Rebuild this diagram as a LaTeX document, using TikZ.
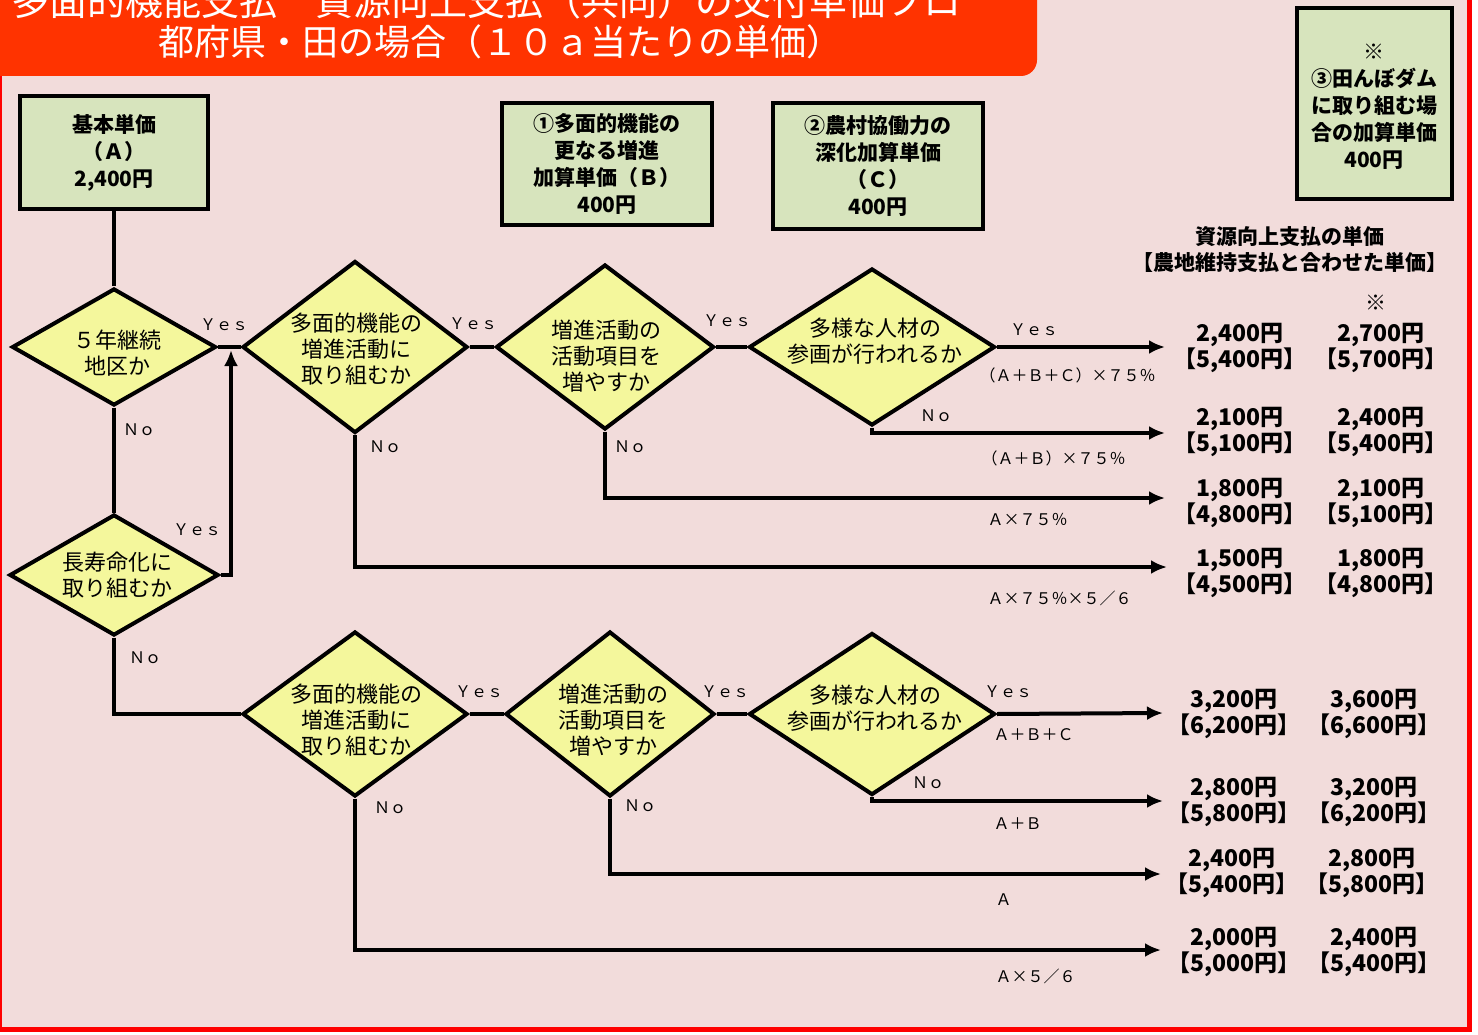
\documentclass[tikz,border=0pt]{standalone}
\usepackage{fontspec}
\setmainfont{Noto Sans CJK JP}
\usetikzlibrary{shapes.geometric,arrows.meta}

\definecolor{bgpink}{HTML}{F2DCDB}
\definecolor{framered}{HTML}{FF0000}
\definecolor{titlered}{HTML}{FF3300}
\definecolor{boxgreen}{HTML}{D7E4BD}
\definecolor{diayellow}{HTML}{F4F79C}

\tikzset{
  titletext/.style={text=white, font=\fontsize{38}{38}\selectfont},
  unitbox/.style={draw, line width=4, fill=boxgreen, inner sep=0, align=center,
    font=\fontsize{21}{27}\selectfont\bfseries},
  judge/.style={diamond, draw, line width=4, fill=diayellow, inner sep=0},
  judgetext/.style={align=center, font=\fontsize{22}{26}\selectfont},
  yn/.style={font=\fontsize{16}{16}\selectfont},
  rate/.style={anchor=west, font=\fontsize{16}{16}\selectfont},
  price/.style={align=center, font=\fontsize{23}{26}\selectfont\bfseries},
  head/.style={align=center, font=\fontsize{21}{26}\selectfont\bfseries},
  flow/.style={line width=4},
  flowto/.style={line width=4, -{Latex[length=16pt,width=14pt]}}
}

\begin{document}
\begin{tikzpicture}[x=1pt,y=-1pt]
		\useasboundingbox (0,0) rectangle (1478,1035);
		\clip (0,0) rectangle (1478,1035);
		\fill[white] (0,0) rectangle (1478,1035);

		% 枠と背景を描画
		\draw[framered, line width=5, fill=bgpink] (-1,-10) rectangle (1469,1029);

		% タイトルを描画
		\fill[titlered, rounded corners=16] (-20,-40) rectangle (1037,76);
		\node[titletext] (title1) at (487,1) {多面的機能支払　資源向上支払（共同）の交付単価フロ};
		\node[titletext, font=\fontsize{36}{36}\selectfont] (title2) at (500,42) {都府県・田の場合（１０ａ当たりの単価）};

		% 単価の箱を描画
		\node[unitbox, minimum width=188, minimum height=113] (boxa) at (114,153) {基本単価\\（Ａ）\\2,400円};
		\node[unitbox, minimum width=210, minimum height=122] (boxb) at (607,164) {①多面的機能の\\更なる増進\\加算単価（Ｂ）\\400円};
		\node[unitbox, minimum width=210, minimum height=126] (boxc) at (878,166) {②農村協働力の\\深化加算単価\\（Ｃ）\\400円};
		\node[unitbox, minimum width=155, minimum height=191] (boxd) at (1374,104) {};
		\node[unitbox, draw=none, fill=none] (boxdt) at (1374,107) {※\\③田んぼダム\\に取り組む場\\合の加算単価\\400円};

		\node[head] (headtxt) at (1290,249) {資源向上支払の単価\\【農地維持支払と合わせた単価】};
		\node[head] (headmark) at (1376,303) {※};

		% 判断のひし形を描画
		\node[judge, minimum width=204, minimum height=117] (d1) at (114,347) {};
		\node[judge, minimum width=209, minimum height=121] (d2) at (114,575) {};
		\node[judge, minimum width=225, minimum height=172] (d3) at (355,347) {};
		\node[judge, minimum width=218, minimum height=165] (d4) at (605,347) {};
		\node[judge, minimum width=246, minimum height=157] (d5) at (872,347) {};
		\node[judge, minimum width=225, minimum height=165] (d6) at (355,714) {};
		\node[judge, minimum width=209, minimum height=165] (d7) at (610,714) {};
		\node[judge, minimum width=246, minimum height=162] (d8) at (872,714) {};

		\node[judgetext] (d1t) at (117,353) {５年継続\\地区か};
		\node[judgetext] (d2t) at (117,575) {長寿命化に\\取り組むか};
		\node[judgetext] (d3t) at (356,349) {多面的機能の\\増進活動に\\取り組むか};
		\node[judgetext] (d4t) at (606,356) {増進活動の\\活動項目を\\増やすか};
		\node[judgetext] (d5t) at (875,341) {多様な人材の\\参画が行われるか};
		\node[judgetext] (d6t) at (356,720) {多面的機能の\\増進活動に\\取り組むか};
		\node[judgetext] (d7t) at (613,720) {増進活動の\\活動項目を\\増やすか};
		\node[judgetext] (d8t) at (875,708) {多様な人材の\\参画が行われるか};

		% 矢印の行き先
		\coordinate (join) at (231,350);
		\coordinate (e1) at (1165,347);
		\coordinate (e2) at (1165,433);
		\coordinate (e3) at (1165,498);
		\coordinate (e4) at (1167,567);
		\coordinate (e5) at (1163,713);
		\coordinate (e6) at (1163,801);
		\coordinate (e7) at (1161,874);
		\coordinate (e8) at (1161,950);

		% 線と矢印を描画
		\draw[flow] (boxa) -- (d1);
		\draw[flow] (d1) -- (d3);
		\draw[flow] (d1) -- (d2);
		\draw[flowto] (d2.east) -| (join);
		\draw[flow] (d2) |- (d6);
		\draw[flow] (d3) -- (d4);
		\draw[flow] (d4) -- (d5);
		\draw[flowto] (d5) -- (e1);
		\draw[flowto] (d5.south) |- (e2);
		\draw[flowto] (d4.south) |- (e3);
		\draw[flowto] (d3.south) |- (e4);
		\draw[flow] (d6) -- (d7);
		\draw[flow] (d7) -- (d8);
		\draw[flowto] (d8.east) -- (e5);
		\draw[flowto] (d8.south) |- (e6);
		\draw[flowto] (d7.south) |- (e7);
		\draw[flowto] (d6.south) |- (e8);

		% Yes と No を描画
		\node[yn] (y1) at (224,325) {Ｙｅｓ};
		\node[yn] (n1) at (139,430) {Ｎｏ};
		\node[yn] (y2) at (197,530) {Ｙｅｓ};
		\node[yn] (n2) at (145,658) {Ｎｏ};
		\node[yn] (y3) at (473,324) {Ｙｅｓ};
		\node[yn] (n3) at (385,447) {Ｎｏ};
		\node[yn] (y4) at (727,321) {Ｙｅｓ};
		\node[yn] (n4) at (630,447) {Ｎｏ};
		\node[yn] (y5) at (1034,330) {Ｙｅｓ};
		\node[yn] (n5) at (936,416) {Ｎｏ};
		\node[yn] (y6) at (479,692) {Ｙｅｓ};
		\node[yn] (n6) at (390,808) {Ｎｏ};
		\node[yn] (y7) at (725,692) {Ｙｅｓ};
		\node[yn] (n7) at (640,806) {Ｎｏ};
		\node[yn] (y8) at (1008,692) {Ｙｅｓ};
		\node[yn] (n8) at (928,783) {Ｎｏ};

		% 計算式を描画
		\node[rate] (r1) at (976,375) {（Ａ＋Ｂ＋Ｃ）×７５％};
		\node[rate] (r2) at (978,458) {（Ａ＋Ｂ）×７５％};
		\node[rate] (r3) at (984,520) {Ａ×７５％};
		\node[rate] (r4) at (984,598) {Ａ×７５％×５／６};
		\node[rate] (r5) at (990,735) {Ａ＋Ｂ＋Ｃ};
		\node[rate] (r6) at (990,824) {Ａ＋Ｂ};
		\node[rate] (r7) at (992,900) {Ａ};
		\node[rate] (r8) at (992,976) {Ａ×５／６};

		% 単価を描画
		\node[price] (p1a) at (1240,348) {2,400円\\【5,400円】};
		\node[price] (p1b) at (1381,348) {2,700円\\【5,700円】};
		\node[price] (p2a) at (1240,432) {2,100円\\【5,100円】};
		\node[price] (p2b) at (1381,432) {2,400円\\【5,400円】};
		\node[price] (p3a) at (1240,503) {1,800円\\【4,800円】};
		\node[price] (p3b) at (1381,503) {2,100円\\【5,100円】};
		\node[price] (p4a) at (1240,573) {1,500円\\【4,500円】};
		\node[price] (p4b) at (1381,573) {1,800円\\【4,800円】};
		\node[price] (p5a) at (1234,714) {3,200円\\【6,200円】};
		\node[price] (p5b) at (1374,714) {3,600円\\【6,600円】};
		\node[price] (p6a) at (1234,802) {2,800円\\【5,800円】};
		\node[price] (p6b) at (1374,802) {3,200円\\【6,200円】};
		\node[price] (p7a) at (1232,873) {2,400円\\【5,400円】};
		\node[price] (p7b) at (1372,873) {2,800円\\【5,800円】};
		\node[price] (p8a) at (1234,952) {2,000円\\【5,000円】};
		\node[price] (p8b) at (1374,952) {2,400円\\【5,400円】};
	\end{tikzpicture}
\end{document}
